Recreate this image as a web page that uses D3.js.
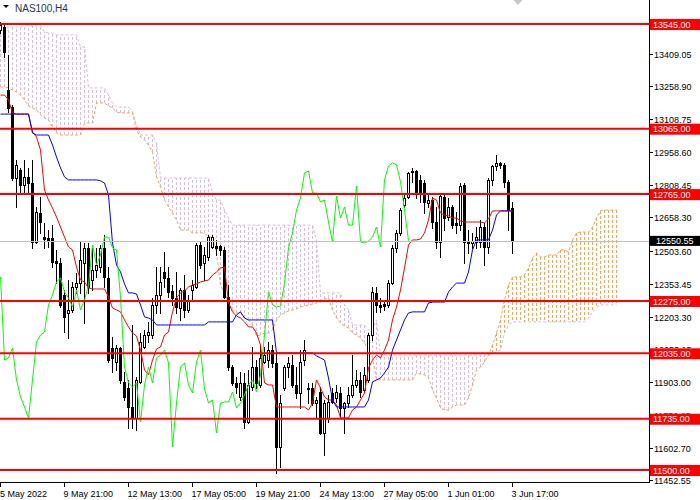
<!DOCTYPE html>
<html><head><meta charset="utf-8">
<script src="https://cdn.jsdelivr.net/npm/d3@7"></script>
<style>html,body{margin:0;padding:0;background:#fff;} svg{display:block;}</style>
</head><body>
<svg id="c" width="700" height="500"></svg>
<script>
const symbolTitle = "NAS100,H4";
const xTickBars = [0,16,32,48,64,80,96,112,128];
const xTickLabels = ["5 May 2022","9 May 21:00","12 May 13:00","17 May 05:00","19 May 21:00","24 May 13:00","27 May 05:00","1 Jun 01:00","3 Jun 17:00"];
const yTickLabels = ["13559.20","13409.05","13258.90","13108.75","12958.60","12808.45","12658.30","12503.60","12353.45","12203.30","12053.15","11903.00","11752.85","11602.70","11452.55"];
const levels = [13545,13065,12765,12275,12035,11735,11500];
const bidPrice = 12550.55;

const opens = [13517,13531,13242,13164,12839,12876,12807,12843,12816,12545,
12678,12568,12564,12564,12459,12449,12302,12220,12234,12339,
12357,12449,12518,12371,12417,12431,12518,12380,12059,11995,
12059,11904,11876,11789,11739,11904,12064,12119,12119,12257,
12302,12408,12380,12321,12289,12243,12325,12234,12325,12339,
12532,12449,12477,12523,12527,12527,12509,12293,11972,11899,
11835,11899,11720,11881,11972,11890,11995,12004,12050,11991,
11606,11876,11972,11982,11890,11853,12004,11876,11876,11807,
11858,11670,11738,11853,11830,11853,11784,11807,11844,11890,
11913,11867,11913,12119,12312,12257,12261,12257,12357,12518,
12587,12715,12752,12866,12871,12830,12816,12724,12738,12637,
12545,12752,12660,12706,12633,12623,12807,12550,12541,12545,
12545,12614,12523,12830,12894,12908,12899,12821,12701];
const highs = [13554,13545,13403,13174,12921,12885,12921,12885,12921,12706,
12752,12633,12600,12623,12509,12472,12325,12371,12362,12403,
12545,12541,12541,12518,12518,12532,12578,12431,12110,12073,
12064,11949,11913,12165,11926,12128,12142,12179,12289,12431,
12431,12500,12431,12348,12408,12335,12394,12302,12371,12541,
12545,12523,12578,12578,12555,12532,12523,12348,11982,11926,
11949,11945,11959,12064,12004,12073,12064,12087,12073,12036,
11844,11982,12018,12027,11972,12050,12096,11899,11899,11835,
11881,11821,11844,11876,11890,11881,11812,11881,12027,11959,
11949,11972,12128,12339,12339,12289,12280,12371,12532,12600,
12701,12761,12866,12885,12876,12853,12830,12761,12752,12706,
12761,12761,12747,12715,12683,12816,12816,12600,12587,12614,
12646,12633,12839,12899,12944,12912,12908,12830,12729];
const lows = [13504,13394,13141,12830,12706,12775,12770,12770,12518,12541,
12587,12518,12523,12431,12357,12247,12133,12105,12225,12312,
12312,12174,12312,12325,12385,12408,12339,11995,11949,11959,
11899,11821,11693,11693,11683,11900,12059,12087,12105,12220,
12220,12339,12293,12257,12220,12188,12202,12225,12280,12335,
12426,12371,12463,12518,12486,12486,12290,11959,11890,11853,
11821,11693,11715,11867,11876,11881,11991,11972,11972,11486,
11514,11867,11926,11881,11830,11784,11982,11807,11798,11743,
11665,11569,11720,11807,11812,11738,11670,11789,11835,11881,
11835,11858,11904,12096,12225,12225,12234,12247,12352,12500,
12578,12706,12747,12821,12747,12729,12678,12706,12610,12518,
12477,12600,12646,12610,12587,12600,12449,12495,12518,12518,
12523,12440,12495,12807,12876,12885,12798,12600,12495];
const closes = [13540,13417,13160,12839,12899,12807,12843,12816,12545,12683,
12637,12559,12555,12454,12449,12257,12202,12234,12339,12357,
12463,12518,12339,12417,12440,12518,12385,12004,12014,12059,
11913,11835,11789,11738,11913,12087,12119,12133,12257,12302,
12362,12380,12316,12289,12247,12325,12234,12280,12348,12532,
12440,12486,12568,12568,12518,12509,12293,11972,11899,11881,
11899,11720,11890,11972,11899,12014,12027,12050,11991,11606,
11807,11972,11991,11890,11853,11995,12050,11872,11807,11821,
11670,11807,11812,11812,11858,11784,11807,11844,11890,11913,
11858,11936,12119,12316,12257,12247,12252,12357,12518,12587,
12692,12747,12862,12871,12770,12770,12729,12738,12637,12545,
12756,12655,12706,12623,12623,12802,12545,12541,12550,12568,
12614,12523,12830,12894,12908,12899,12821,12692,12550.55];

const tenkan = [13219,13219,13197,13137,13132,13132,13132,13132,13050,13027,
12967,12784,12738,12701,12660,12614,12568,12523,12509,12431,
12371,12362,12335,12330,12330,12330,12330,12293,12243,12234,
12225,12188,12156,12128,12114,12050,11959,11936,12004,12055,
12064,12119,12133,12225,12289,12312,12321,12339,12348,12353,
12362,12367,12371,12394,12408,12426,12431,12266,12225,12206,
12197,12179,12156,12156,12128,12073,11899,11890,11890,11789,
11789,11789,11789,11789,11789,11789,11789,11775,11807,11913,
11876,11835,11821,11821,11798,11739,11739,11739,11775,11789,
11821,11853,11968,12004,12027,12014,12050,12096,12188,12247,
12325,12426,12532,12555,12555,12559,12587,12646,12747,12738,
12678,12669,12665,12655,12655,12642,12637,12637,12637,12637,
12637,12633,12651,12688,12688,12688,12688,12688,12688];
const kijun = [13132,13132,13132,13132,13132,13132,13132,13132,13045,13036,
13036,13036,13036,12990,12935,12885,12844,12830,12830,12830,
12830,12830,12830,12830,12830,12826,12816,12761,12541,12440,
12408,12353,12312,12312,12307,12257,12202,12197,12188,12165,
12165,12165,12165,12165,12165,12165,12165,12165,12165,12165,
12165,12165,12179,12179,12179,12179,12179,12179,12179,12211,
12225,12197,12188,12188,12188,12188,12188,12188,12188,12037,
12037,12037,12037,12037,12037,12037,12037,12037,12037,12023,
12014,12004,11922,11821,11789,11789,11789,11789,11789,11789,
11789,11789,11821,11904,11913,11922,11945,11972,12050,12096,
12142,12188,12220,12225,12225,12225,12225,12266,12270,12270,
12270,12270,12316,12339,12357,12357,12357,12408,12509,12555,
12555,12555,12555,12600,12669,12688,12688,12688,12688];
const spanA = [13256,13256,13252,13242,13233,13219,13197,13169,13160,13151,
13128,13114,13105,13073,13045,13036,13036,13036,13036,13036,
13036,13091,13091,13091,13183,13183,13183,13169,13160,13142,
13137,13137,13137,13137,13059,13027,13013,12990,12958,12844,
12798,12738,12706,12678,12646,12600,12600,12600,12587,12587,
12587,12587,12568,12568,12495,12348,12312,12266,12234,12220,
12220,12197,12188,12165,12114,12119,12128,12128,12142,12188,
12211,12220,12229,12234,12238,12247,12252,12257,12261,12266,
12270,12284,12289,12234,12197,12174,12160,12151,12128,12119,
12105,12082,12050,12014,11913,11913,11913,11913,11913,11913,
11913,11913,11913,11913,11945,11940,11936,11922,11867,11830,
11784,11775,11775,11789,11798,11798,11798,11830,11890,11959,
11972,11995,12027,12073,12128,12188,12280,12348,12385,12385,
12385,12394,12426,12472,12495,12477,12477,12486,12486,12486,
12509,12509,12500,12555,12587,12591,12591,12591,12614,12655,
12688,12692,12692,12692,12692];
const spanB = [13531,13531,13531,13531,13531,13531,13540,13540,13540,13540,
13540,13508,13504,13504,13495,13495,13495,13495,13495,13495,
13440,13440,13252,13252,13252,13252,13252,13219,13183,13164,
13164,13164,13164,13142,13082,13036,13036,13036,13036,12999,
12839,12839,12839,12839,12839,12839,12839,12839,12839,12839,
12839,12839,12839,12770,12738,12738,12692,12655,12623,12623,
12623,12623,12623,12623,12623,12623,12623,12623,12623,12623,
12623,12623,12623,12623,12623,12623,12623,12623,12623,12555,
12312,12312,12312,12312,12312,12312,12257,12234,12165,12165,
12165,12165,12142,12142,12188,12027,12027,12027,12027,12027,
12027,12027,12027,12027,12027,12027,12027,12027,12027,12027,
12027,12027,12027,12027,12027,12027,12027,12027,12027,12027,
12027,12027,12027,12032,12041,12050,12128,12165,12179,12179,
12179,12179,12179,12179,12179,12179,12179,12179,12179,12179,
12179,12179,12179,12179,12179,12179,12179,12197,12225,12243,
12257,12257,12257,12257,12257];
const chikouShift = 26;

const svg = d3.select("#c");
const FONT = "'Liberation Sans', Arial, sans-serif";
const plotW = 649, plotH = 482;
const x = d3.scaleLinear().domain([0, 154]).range([0.5, 616.5]);
const y = d3.scaleLinear().domain([11500, 13545]).range([470, 24]);

svg.append("rect").attr("width",700).attr("height",500).attr("fill","#fff");
const defs = svg.append("defs");
defs.append("clipPath").attr("id","clip")
  .append("rect").attr("width",plotW).attr("height",plotH);

// axis label clip: free space on the price scale not covered by label boxes
const boxes = levels.map(v=>[y(v)-5, y(v)+6]).concat([[y(bidPrice)-5, y(bidPrice)+5]])
  .sort((a,b)=>a[0]-b[0]);
const tclip = defs.append("clipPath").attr("id","tclip");
let cur = 0;
boxes.forEach(b=>{ if(b[0]>cur) tclip.append("rect").attr("x",650).attr("y",cur).attr("width",50).attr("height",b[0]-cur); cur=Math.max(cur,b[1]); });
tclip.append("rect").attr("x",650).attr("y",cur).attr("width",50).attr("height",500-cur);

const g = svg.append("g").attr("clip-path","url(#clip)");

// Ichimoku cloud histogram
const cloudIdx = d3.range(spanA.length);
g.append("g").selectAll("line").data(cloudIdx).join("line")
  .attr("x1",i=>x(i)).attr("x2",i=>x(i))
  .attr("y1",i=>y(spanA[i])).attr("y2",i=>y(spanB[i]))
  .attr("stroke",i=>spanA[i]>=spanB[i]?"#f4a460":"#d8bfd8")
  .attr("stroke-width",1).attr("stroke-dasharray","3,2");
const lineGen = d3.line().x((d,i)=>x(i)).y(d=>y(d));
g.append("path").attr("d",lineGen(spanB)).attr("fill","none")
  .attr("stroke","#d8bfd8").attr("stroke-dasharray","3,2");
g.append("path").attr("d",lineGen(spanA)).attr("fill","none")
  .attr("stroke","#f4a460").attr("stroke-dasharray","3,2");

// candles
const idx = d3.range(closes.length);
const cg = g.append("g");
cg.selectAll("line").data(idx).join("line")
  .attr("x1",i=>x(i)).attr("x2",i=>x(i))
  .attr("y1",i=>Math.round(y(highs[i]))).attr("y2",i=>Math.round(y(lows[i]))+1)
  .attr("stroke","#000").attr("stroke-width",1);
cg.selectAll("rect").data(idx).join("rect").each(function(i){
  const o=y(opens[i]), c=y(closes[i]);
  const top=Math.round(Math.min(o,c)), bot=Math.round(Math.max(o,c));
  const s=d3.select(this);
  if(closes[i]>=opens[i]){
    s.attr("x",x(i)-1).attr("y",top+0.5).attr("width",2).attr("height",Math.max(0,bot-top))
     .attr("fill","#fff").attr("stroke","#000").attr("stroke-width",1);
  } else {
    s.attr("x",x(i)-1.5).attr("y",top).attr("width",3).attr("height",Math.max(1,bot-top+1))
     .attr("fill","#000");
  }
});

// Tenkan, Kijun, Chikou
g.append("path").attr("d",lineGen(tenkan)).attr("fill","none").attr("stroke","#ff0000");
g.append("path").attr("d",lineGen(kijun)).attr("fill","none").attr("stroke","#0000ff");
const chikou = closes.slice(chikouShift);
g.append("path").attr("d",lineGen(chikou)).attr("fill","none").attr("stroke","#00ff00");

// bid line
g.append("line").attr("x1",0).attr("x2",plotW).attr("y1",Math.round(y(bidPrice))+0.5).attr("y2",Math.round(y(bidPrice))+0.5)
  .attr("stroke","#c0c0c0");

// level lines
g.append("g").selectAll("line").data(levels).join("line")
  .attr("x1",0).attr("x2",plotW).attr("y1",d=>y(d)).attr("y2",d=>y(d))
  .attr("stroke","#ff0000").attr("stroke-width",2);

// axes
svg.append("line").attr("x1",649.5).attr("x2",649.5).attr("y1",0).attr("y2",483).attr("stroke","#000");
svg.append("line").attr("x1",0).attr("x2",650).attr("y1",482.5).attr("y2",482.5).attr("stroke","#000");

const yt = svg.append("g");
const ytText = svg.append("g").attr("clip-path","url(#tclip)");
yTickLabels.forEach(t=>{
  const v=+t, yy=Math.round(y(v))+0.5;
  yt.append("line").attr("x1",650).attr("x2",653).attr("y1",yy).attr("y2",yy).attr("stroke","#000");
  ytText.append("text").attr("x",654).attr("y",yy).attr("dy","0.35em").attr("font-family",FONT)
    .attr("font-size",9).attr("fill","#000").text(t);
});
const xt = svg.append("g");
xTickBars.forEach((b,k)=>{
  const xx=x(b);
  xt.append("line").attr("x1",xx).attr("x2",xx).attr("y1",483).attr("y2",487).attr("stroke","#000");
  xt.append("text").attr("x",Math.max(0,xx-1)).attr("y",497).attr("font-family",FONT)
    .attr("font-size",9).attr("fill","#000").text(xTickLabels[k]);
});

// level labels
levels.forEach(v=>{
  const yy=y(v);
  svg.append("rect").attr("x",650).attr("y",yy-5).attr("width",50).attr("height",11).attr("fill","#ff0000");
  svg.append("text").attr("x",653).attr("y",yy+0.5).attr("dy","0.35em").attr("font-family",FONT)
    .attr("font-size",9).attr("fill","#fff").text(v.toFixed(2));
});
// bid label
{
  const yy=y(bidPrice);
  svg.append("rect").attr("x",650).attr("y",yy-5).attr("width",50).attr("height",10).attr("fill","#000");
  svg.append("text").attr("x",656).attr("y",yy).attr("dy","0.35em").attr("font-family",FONT)
    .attr("font-size",9).attr("fill","#fff").text(bidPrice.toFixed(2));
}

// title
svg.append("path").attr("d","M3,5 L9,5 L6,8 Z").attr("fill","#000");
svg.append("text").attr("x",15).attr("y",12).attr("font-family",FONT).attr("font-size",10)
  .attr("fill","#1e325a").text(symbolTitle);
// chart shift marker
svg.append("path").attr("d",`M${x(128)+1},0 L${x(128)+10},0 L${x(128)+5.5},5 Z`).attr("fill","#c8c8c8");
</script>
</body></html>
